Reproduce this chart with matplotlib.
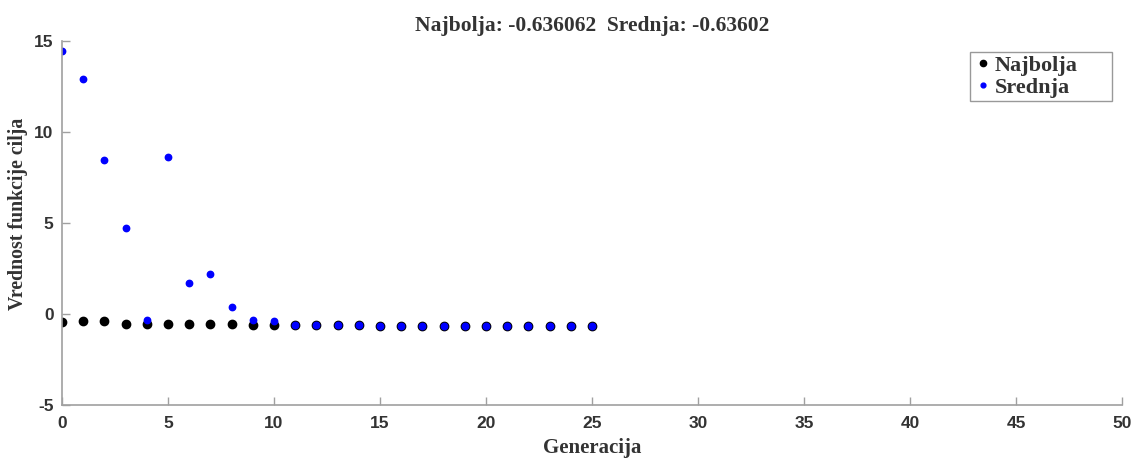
import matplotlib
matplotlib.use("Agg")
import matplotlib.pyplot as plt

plt.rcParams["axes.unicode_minus"] = False

generations = list(range(26))
najbolja = [-0.42, -0.40, -0.40, -0.57, -0.57, -0.57, -0.57, -0.57, -0.57, -0.60, -0.60,
            -0.62, -0.63, -0.63, -0.63, -0.636, -0.636, -0.636, -0.636, -0.636, -0.636,
            -0.636, -0.636, -0.636, -0.636, -0.636062]
srednja = [14.45, 12.9, 8.46, 4.72, -0.33, 8.63, 1.69, 2.22, 0.40, -0.33, -0.38,
           -0.60, -0.58, -0.58, -0.58, -0.636, -0.636, -0.636, -0.636, -0.636, -0.636,
           -0.636, -0.636, -0.636, -0.636, -0.63602]
title_text = "Najbolja: -0.636062  Srednja: -0.63602"
xticks = list(range(0, 51, 5))
yticks = [-5, 0, 5, 10, 15]

serif = ["Liberation Serif", "DejaVu Serif"]
sans = ["Liberation Sans", "DejaVu Sans"]

fig = plt.figure(figsize=(11.35, 4.59), dpi=100)
ax = fig.add_axes([0.0546, 0.1176, 0.9339, 0.7931])

ax.plot(generations, najbolja, linestyle="none", marker="o", markersize=6,
        color="black", label="Najbolja")
ax.plot(generations, srednja, linestyle="none", marker="o", markersize=4.6,
        color="blue", label="Srednja")

ax.set_xlim(0, 50)
ax.set_ylim(-5, 15)
ax.set_xticks(xticks)
ax.set_yticks(yticks)

for s in ["top", "right"]:
    ax.spines[s].set_visible(False)
for s in ["left", "bottom"]:
    ax.spines[s].set_color("#a0a0a0")
    ax.spines[s].set_linewidth(1.2)
ax.tick_params(direction="in", length=6, color="#a0a0a0", width=1,
               labelcolor="#333333")
ax.tick_params(axis="x", pad=8)
ax.tick_params(axis="y", pad=6)
for lab in ax.get_xticklabels() + ax.get_yticklabels():
    lab.set_fontfamily(sans)
    lab.set_fontweight("bold")
    lab.set_fontsize(12.5)

ax.set_xlabel("Generacija", fontfamily=serif, fontweight="bold", fontsize=15,
              color="#333333", labelpad=5)
ax.set_ylabel("Vrednost funkcije cilja", fontfamily=serif, fontweight="bold",
              fontsize=14.3, color="#333333")
ax.yaxis.set_label_coords(-0.032, 0.525)
ax.set_title(title_text, fontfamily=serif, fontweight="bold", fontsize=15.5,
             color="#333333", pad=7)

leg = ax.legend(loc="upper left", bbox_to_anchor=(0.8566, 0.832, 0.134, 0.137),
                mode="expand", frameon=True, fancybox=False, markerscale=0.75,
                handletextpad=0.05, handlelength=0.9, borderpad=0.15,
                labelspacing=0.05, borderaxespad=0.0,
                prop={"family": serif, "weight": "bold", "size": 16})
leg.get_frame().set_edgecolor("#808080")
leg.get_frame().set_linewidth(1.0)
for t in leg.get_texts():
    t.set_color("#333333")

fig.savefig("out.png", dpi=100)
